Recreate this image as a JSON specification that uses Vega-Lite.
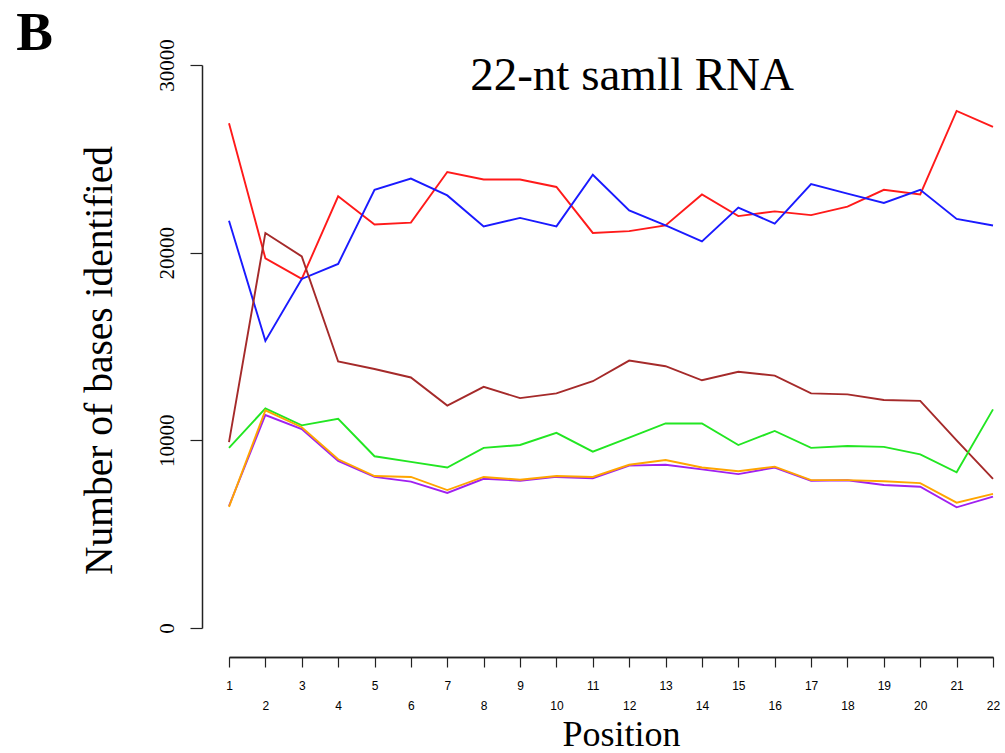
{
  "$schema": "https://vega.github.io/schema/vega-lite/v6.json",
  "autosize": "none",
  "width": 764,
  "height": 563,
  "padding": {"left": 229, "top": 65, "right": 12, "bottom": 125},
  "background": "white",
  "config": {"view": {"stroke": null}},
  "datasets": {
    "bases": [
      {"pos": 1, "series": "red", "count": 26900}, {"pos": 2, "series": "red", "count": 19700}, {"pos": 3, "series": "red", "count": 18600}, {"pos": 4, "series": "red", "count": 23000}, {"pos": 5, "series": "red", "count": 21500}, {"pos": 6, "series": "red", "count": 21600}, {"pos": 7, "series": "red", "count": 24300}, {"pos": 8, "series": "red", "count": 23900}, {"pos": 9, "series": "red", "count": 23900}, {"pos": 10, "series": "red", "count": 23500}, {"pos": 11, "series": "red", "count": 21050}, {"pos": 12, "series": "red", "count": 21150}, {"pos": 13, "series": "red", "count": 21450}, {"pos": 14, "series": "red", "count": 23100}, {"pos": 15, "series": "red", "count": 21950}, {"pos": 16, "series": "red", "count": 22200}, {"pos": 17, "series": "red", "count": 22000}, {"pos": 18, "series": "red", "count": 22450}, {"pos": 19, "series": "red", "count": 23350}, {"pos": 20, "series": "red", "count": 23100}, {"pos": 21, "series": "red", "count": 27550}, {"pos": 22, "series": "red", "count": 26700},
      {"pos": 1, "series": "blue", "count": 21700}, {"pos": 2, "series": "blue", "count": 15300}, {"pos": 3, "series": "blue", "count": 18600}, {"pos": 4, "series": "blue", "count": 19400}, {"pos": 5, "series": "blue", "count": 23350}, {"pos": 6, "series": "blue", "count": 23950}, {"pos": 7, "series": "blue", "count": 23050}, {"pos": 8, "series": "blue", "count": 21400}, {"pos": 9, "series": "blue", "count": 21850}, {"pos": 10, "series": "blue", "count": 21400}, {"pos": 11, "series": "blue", "count": 24150}, {"pos": 12, "series": "blue", "count": 22250}, {"pos": 13, "series": "blue", "count": 21450}, {"pos": 14, "series": "blue", "count": 20600}, {"pos": 15, "series": "blue", "count": 22400}, {"pos": 16, "series": "blue", "count": 21550}, {"pos": 17, "series": "blue", "count": 23650}, {"pos": 18, "series": "blue", "count": 23150}, {"pos": 19, "series": "blue", "count": 22650}, {"pos": 20, "series": "blue", "count": 23350}, {"pos": 21, "series": "blue", "count": 21800}, {"pos": 22, "series": "blue", "count": 21450},
      {"pos": 1, "series": "brown", "count": 9900}, {"pos": 2, "series": "brown", "count": 21050}, {"pos": 3, "series": "brown", "count": 19800}, {"pos": 4, "series": "brown", "count": 14200}, {"pos": 5, "series": "brown", "count": 13800}, {"pos": 6, "series": "brown", "count": 13350}, {"pos": 7, "series": "brown", "count": 11850}, {"pos": 8, "series": "brown", "count": 12850}, {"pos": 9, "series": "brown", "count": 12250}, {"pos": 10, "series": "brown", "count": 12500}, {"pos": 11, "series": "brown", "count": 13150}, {"pos": 12, "series": "brown", "count": 14250}, {"pos": 13, "series": "brown", "count": 13950}, {"pos": 14, "series": "brown", "count": 13200}, {"pos": 15, "series": "brown", "count": 13650}, {"pos": 16, "series": "brown", "count": 13450}, {"pos": 17, "series": "brown", "count": 12500}, {"pos": 18, "series": "brown", "count": 12450}, {"pos": 19, "series": "brown", "count": 12150}, {"pos": 20, "series": "brown", "count": 12100}, {"pos": 21, "series": "brown", "count": 10000}, {"pos": 22, "series": "brown", "count": 7950},
      {"pos": 1, "series": "green", "count": 9600}, {"pos": 2, "series": "green", "count": 11700}, {"pos": 3, "series": "green", "count": 10800}, {"pos": 4, "series": "green", "count": 11150}, {"pos": 5, "series": "green", "count": 9150}, {"pos": 6, "series": "green", "count": 8850}, {"pos": 7, "series": "green", "count": 8550}, {"pos": 8, "series": "green", "count": 9600}, {"pos": 9, "series": "green", "count": 9750}, {"pos": 10, "series": "green", "count": 10400}, {"pos": 11, "series": "green", "count": 9400}, {"pos": 12, "series": "green", "count": 10150}, {"pos": 13, "series": "green", "count": 10900}, {"pos": 14, "series": "green", "count": 10900}, {"pos": 15, "series": "green", "count": 9750}, {"pos": 16, "series": "green", "count": 10500}, {"pos": 17, "series": "green", "count": 9600}, {"pos": 18, "series": "green", "count": 9700}, {"pos": 19, "series": "green", "count": 9650}, {"pos": 20, "series": "green", "count": 9250}, {"pos": 21, "series": "green", "count": 8300}, {"pos": 22, "series": "green", "count": 11650},
      {"pos": 1, "series": "purple", "count": 6500}, {"pos": 2, "series": "purple", "count": 11350}, {"pos": 3, "series": "purple", "count": 10600}, {"pos": 4, "series": "purple", "count": 8900}, {"pos": 5, "series": "purple", "count": 8050}, {"pos": 6, "series": "purple", "count": 7800}, {"pos": 7, "series": "purple", "count": 7200}, {"pos": 8, "series": "purple", "count": 7950}, {"pos": 9, "series": "purple", "count": 7850}, {"pos": 10, "series": "purple", "count": 8050}, {"pos": 11, "series": "purple", "count": 7980}, {"pos": 12, "series": "purple", "count": 8650}, {"pos": 13, "series": "purple", "count": 8700}, {"pos": 14, "series": "purple", "count": 8450}, {"pos": 15, "series": "purple", "count": 8200}, {"pos": 16, "series": "purple", "count": 8550}, {"pos": 17, "series": "purple", "count": 7850}, {"pos": 18, "series": "purple", "count": 7870}, {"pos": 19, "series": "purple", "count": 7620}, {"pos": 20, "series": "purple", "count": 7530}, {"pos": 21, "series": "purple", "count": 6430}, {"pos": 22, "series": "purple", "count": 7000},
      {"pos": 1, "series": "orange", "count": 6450}, {"pos": 2, "series": "orange", "count": 11600}, {"pos": 3, "series": "orange", "count": 10700}, {"pos": 4, "series": "orange", "count": 8990}, {"pos": 5, "series": "orange", "count": 8100}, {"pos": 6, "series": "orange", "count": 8050}, {"pos": 7, "series": "orange", "count": 7350}, {"pos": 8, "series": "orange", "count": 8050}, {"pos": 9, "series": "orange", "count": 7900}, {"pos": 10, "series": "orange", "count": 8100}, {"pos": 11, "series": "orange", "count": 8050}, {"pos": 12, "series": "orange", "count": 8700}, {"pos": 13, "series": "orange", "count": 8950}, {"pos": 14, "series": "orange", "count": 8550}, {"pos": 15, "series": "orange", "count": 8350}, {"pos": 16, "series": "orange", "count": 8600}, {"pos": 17, "series": "orange", "count": 7880}, {"pos": 18, "series": "orange", "count": 7880}, {"pos": 19, "series": "orange", "count": 7820}, {"pos": 20, "series": "orange", "count": 7720}, {"pos": 21, "series": "orange", "count": 6680}, {"pos": 22, "series": "orange", "count": 7150}
    ],
    "chartTitle": [{"label": "22-nt samll RNA"}],
    "panel": [{"label": "B"}]
  },
  "layer": [
    {
      "data": {"name": "bases"},
      "mark": {"type": "line", "strokeWidth": 1.9},
      "encoding": {
        "x": {
          "field": "pos", "type": "quantitative",
          "scale": {"domain": [1, 22], "nice": false, "zero": false},
          "axis": {
            "orient": "bottom",
            "values": [1,3,5,7,9,11,13,15,17,19,21],
            "offset": 29,
            "grid": false,
            "domainColor": "#222222",
            "tickColor": "#222222",
            "tickSize": 10,
            "tickWidth": 1.2,
            "domainWidth": 1.5,
            "labelFont": "Liberation Sans",
            "labelFontSize": 12,
            "labelColor": "#000000",
            "labelPadding": 13,
            "labelFlush": false,
            "labelOverlap": false,
            "title": "Position",
            "titleFont": "Liberation Serif",
            "titleFontSize": 36,
            "titleFontWeight": "normal",
            "titleColor": "#000000",
            "titleX": 392,
            "titleY": 88,
            "titleBaseline": "alphabetic"
          }
        },
        "y": {
          "field": "count", "type": "quantitative",
          "scale": {"domain": [0, 30000], "nice": false},
          "axis": {
            "values": [0, 10000, 20000, 30000],
            "offset": 27,
            "grid": false,
            "domainColor": "#222222",
            "tickColor": "#222222",
            "tickSize": 12,
            "tickWidth": 1.2,
            "domainWidth": 1.5,
            "labelFont": "Liberation Serif",
            "labelFontSize": 21,
            "labelColor": "#000000",
            "labelAngle": -90,
            "labelAlign": "center",
            "labelBaseline": "bottom",
            "labelPadding": 13,
            "labelFlush": false,
            "format": "d",
            "title": "Number of bases identified",
            "titleFont": "Liberation Serif",
            "titleFontSize": 39.5,
            "titleFontWeight": "normal",
            "titleColor": "#000000",
            "titlePadding": 37,
            "titleY": 295
          }
        },
        "color": {
          "field": "series", "type": "nominal",
          "scale": {
            "domain": ["red", "blue", "brown", "green", "purple", "orange"],
            "range": ["#ff1a1a", "#1a1aff", "#a52a2a", "#22e622", "#a020f0", "#ffa500"]
          },
          "legend": null
        },
        "order": {"field": "pos", "type": "quantitative"}
      }
    },
    {
      "data": {"name": "chartTitle"},
      "mark": {"type": "text", "font": "Liberation Serif", "fontSize": 47, "align": "center", "baseline": "alphabetic", "color": "#000000"},
      "encoding": {
        "text": {"field": "label"},
        "x": {
          "datum": 12.08, "type": "quantitative",
          "axis": {
            "orient": "bottom",
            "values": [2,4,6,8,10,12,14,16,18,20,22],
            "offset": 29,
            "grid": false,
            "domainColor": "#222222",
            "tickColor": "#222222",
            "tickSize": 10,
            "tickWidth": 1.2,
            "domainWidth": 1.5,
            "labelFont": "Liberation Sans",
            "labelFontSize": 12,
            "labelColor": "#000000",
            "labelPadding": 33,
            "labelFlush": false,
            "labelOverlap": false,
            "title": null
          }
        },
        "y": {"datum": 28660, "type": "quantitative"}
      }
    },
    {
      "data": {"name": "panel"},
      "mark": {"type": "text", "font": "Liberation Serif", "fontWeight": "bold", "fontSize": 55, "align": "left", "baseline": "alphabetic", "color": "#000000"},
      "encoding": {
        "text": {"field": "label"},
        "x": {"datum": -4.85, "type": "quantitative", "axis": null},
        "y": {"datum": 30800, "type": "quantitative"}
      }
    }
  ],
  "resolve": {"axis": {"x": "independent"}}
}
